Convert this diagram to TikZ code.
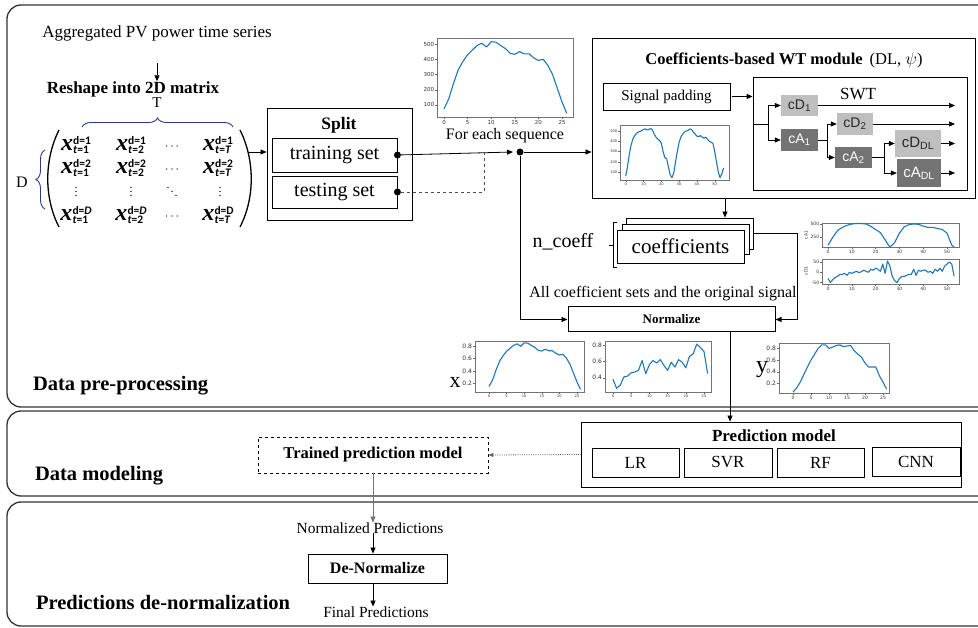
\documentclass[tikz,border=0pt]{standalone}
\usepackage{fontspec}
\setmainfont{Liberation Serif}
\newfontfamily\arialf{Liberation Sans}
\newfontfamily\carlf{Carlito}
\newfontfamily\dvf{DejaVu Sans}
\usetikzlibrary{arrows.meta,decorations.pathreplacing,calc}
\definecolor{plotblue}{HTML}{1F77B4}
\definecolor{bracecol}{HTML}{2B3A8C}
\definecolor{lightcoef}{HTML}{BFBFBF}
\definecolor{darkcoef}{HTML}{737373}
\definecolor{framecol}{HTML}{333333}
\newcommand{\fsz}[1]{\fontsize{#1}{#1}\selectfont}
% one matrix entry: bold italic x with stacked super/subscript
\newcommand{\mxscr}{\fsz{11.5}\carlf\bfseries}
\newcommand{\mxe}[2]{{\fsz{24}\bfseries\itshape x}\kern0.2pt\raisebox{-3.5pt}{\shortstack[l]{\mxscr #1\\[-1pt]\mxscr #2}}}
% compact vertical and diagonal dots for the matrix
\newcommand{\vdts}{\vbox{\baselineskip4pt\lineskiplimit0pt\hbox{.}\hbox{.}\hbox{.}}}
\newcommand{\ddts}{\hbox{\raisebox{8pt}{.}\kern1pt\raisebox{4pt}{.}\kern1pt\raisebox{0pt}{.}}}
% axis ticks of the small line charts (pixel based)
\newcommand{\xticks}[5]{\foreach \v in {#4} {\pgfmathsetmacro\pp{#1+(\v)*#2}
   \draw[tk] (\pp,#3) -- (\pp,#3+2);
   \node[#5, anchor=north] at (\pp,#3+2) {\v};}}
\newcommand{\yticks}[5]{\foreach \v in {#4} {\pgfmathsetmacro\pp{#1-(\v)*#2}
   \draw[tk] (#3,\pp) -- (#3-2,\pp);
   \node[#5, anchor=east] at (#3-2,\pp) {\v};}}
\newcommand{\dataplot}[5]{\begin{scope}[shift={(#1,#2)}, x=#3pt, y=#4pt]
   \draw[plotline] plot coordinates {#5};
 \end{scope}}
\begin{document}
\begin{tikzpicture}[x=1pt, y=-1pt,
  lbl/.style={inner sep=0pt, outer sep=0pt},
  box/.style={draw=black, line width=0.9pt, fill=white, inner sep=0pt},
  arr/.style={line width=0.8pt, -{Triangle[length=6pt,width=5pt]}},
  stageframe/.style={draw=framecol, line width=1.3pt, rounded corners=14pt},
  coefL/.style={fill=lightcoef, inner sep=0pt, font=\arialf\fsz{14}, text=black!85},
  coefD/.style={fill=darkcoef, inner sep=0pt, font=\arialf\fsz{14}, text=white},
  cframe/.style={draw=black!55, line width=0.6pt},
  plotline/.style={draw=plotblue, line width=1.1pt, line join=round},
  tk/.style={draw=black!60, line width=0.35pt},
  tA/.style={inner sep=0.8pt, font=\dvf\fsz{5.5}, text=black!80},
  tS/.style={inner sep=0.6pt, font=\dvf\fsz{3.6}, text=black!80},
  tM/.style={inner sep=0.6pt, font=\dvf\fsz{4.5}, text=black!80},
  tL/.style={inner sep=0.8pt, font=\dvf\fsz{6}, text=black!80},
  dotn/.style={circle, fill=black, inner sep=0pt, minimum size=7pt},
  mx/.style={inner sep=0pt},
  mdots/.style={inner sep=0pt, font=\fsz{12}},
  brc/.style={draw=bracecol, line width=0.9pt, decorate, decoration={brace, amplitude=#1}},
]
\useasboundingbox (0,0) rectangle (978,628);
\clip (0,0) rectangle (978,628);
\fill[white] (0,0) rectangle (978,628);

% ---------- stage frames ----------
\draw[stageframe] (7,5) rectangle (995,407);
\draw[stageframe] (7,411) rectangle (995,496);
\draw[stageframe] (7,502) rectangle (995,626);
\node[lbl, anchor=west, font=\fsz{20.5}\bfseries] (stage1) at (33,386) {Data pre-processing};
\node[lbl, anchor=west, font=\fsz{20.5}\bfseries] (stage2) at (35,476) {Data modeling};
\node[lbl, anchor=west, font=\fsz{20.5}\bfseries] (stage3) at (36,602) {Predictions de-normalization};

% ---------- input and reshaping ----------
\node[lbl, font=\fsz{17}] (agg) at (157,33) {Aggregated PV power time series};
\coordinate (aggout) at (157,63);
\node[lbl, font=\fsz{17}\bfseries] (reshape) at (133,89) {Reshape into 2D matrix};
\draw[arr] (aggout) -- (aggout |- reshape.north);
\node[lbl, font=\fsz{15}] (Tlab) at (157,103) {T};
\draw[brc=9pt] (82,127) -- (233,127);
\draw[brc=9pt] (45,209) -- (45,150);
\node[lbl, font=\fsz{16}] (Dlab) at (22,182) {D};

% matrix body
\node[mx] (m11) at (76,145) {\mxe{d=1}{\textit{t}=1}};
\node[mx] (m12) at (131,145) {\mxe{d=1}{\textit{t}=2}};
\node[mdots] (m13) at (172,147) {$\cdots$};
\node[mx] (m14) at (218,145) {\mxe{d=1}{\textit{t}=\textit{T}}};
\node[mx] (m21) at (76,168) {\mxe{d=2}{\textit{t}=1}};
\node[mx] (m22) at (131,168) {\mxe{d=2}{\textit{t}=2}};
\node[mdots] (m23) at (172,170) {$\cdots$};
\node[mx] (m24) at (218,168) {\mxe{d=2}{\textit{t}=\textit{T}}};
\node[mdots] (m31) at (76,192) {\vdts};
\node[mdots] (m32) at (131,192) {\vdts};
\node[mdots] (m33) at (172,192) {\ddts};
\node[mdots] (m34) at (220,192) {\vdts};
\node[mx] (m41) at (76,215) {\mxe{d=\textit{D}}{\textit{t}=1}};
\node[mx] (m42) at (131,215) {\mxe{d=\textit{D}}{\textit{t}=2}};
\node[mdots] (m43) at (172,217) {$\cdots$};
\node[mx] (m44) at (218,215) {\mxe{d=D}{\textit{t}=\textit{T}}};
\draw[line width=1.3pt] (59,130) .. controls (44,160) and (44,198) .. (59,227);
\draw[line width=1.3pt] (240,130) .. controls (255,160) and (255,198) .. (240,227);
\coordinate (matR) at (249,152);

% ---------- split ----------
\node[box, minimum width=145pt, minimum height=112pt] (split) at (339.5,164) {};
\node[lbl, font=\fsz{17.5}\bfseries] (splitlab) at (339,125) {Split};
\node[box, minimum width=125pt, minimum height=34pt, font=\fsz{20}] (train) at (334.5,155) {training set};
\node[box, minimum width=125pt, minimum height=32pt, font=\fsz{20}] (test) at (334.5,192) {testing set};
\draw[arr] (matR) -- (matR -| split.west);
\node[dotn] (trdot) at (train.east) {};
\node[dotn] (tedot) at (test.east) {};
\coordinate (jin) at (513,152);
\node[dotn] (jdot) at (520,152) {};
\coordinate (tjoin) at (484,152);
\draw[arr] (trdot) -- (jin);
\draw[line width=0.7pt, dashed, draw=black!70] (tedot) -| (tjoin);

% sequence chart
\draw[cframe] (437,38) rectangle (573,117);
\xticks{444}{4.72}{117}{0,5,10,15,20,25}{tA}
\yticks{120.25}{0.1525}{437}{100,200,300,400,500}{tA}
\dataplot{444}{120.25}{4.72}{0.1525}{(0,75)(1,140)(2,240)(3,330)(4,385)(5,430)(6,460)(7,490)(8,505)(9,480)(10,515)(11,512)(12,490)(13,470)(14,440)(15,432)(16,450)(17,435)(18,435)(19,410)(20,392)(21,400)(22,360)(23,300)(24,210)(25,120)(26,45)}
\node[lbl, font=\fsz{16}] (foreach) at (505,136) {For each sequence};

% ---------- wavelet module ----------
\node[box, minimum width=383pt, minimum height=160pt] (wt) at (783.5,118) {};
\node[lbl, font=\fsz{16.5}] (wttitle) at (784,60) {\textbf{Coefficients-based WT module}\hspace{7pt}(DL, $\psi$)};
\node[box, minimum width=127pt, minimum height=27pt, font=\fsz{15}] (sigpad) at (666.5,96.5) {Signal padding};
\node[box, line width=0.8pt, minimum width=214pt, minimum height=113pt] (swt) at (860,133.5) {};
\node[lbl, font=\fsz{17}] (swtlab) at (858,94) {SWT};
\draw[arr] ([xshift=2pt]sigpad.east) -- (sigpad.east -| swt.west);
\draw[arr] (jdot) -- (jdot -| wt.west);

\node[coefL, minimum width=37pt, minimum height=21pt] (cD1) at (799.5,105.5) {cD\textsubscript{1}};
\node[coefD, minimum width=37pt, minimum height=22pt] (cA1) at (799.5,140) {cA\textsubscript{1}};
\node[coefL, minimum width=36pt, minimum height=22pt] (cD2) at (855,124) {cD\textsubscript{2}};
\node[coefD, minimum width=37pt, minimum height=21pt] (cA2) at (853.5,157.5) {cA\textsubscript{2}};
\node[coefL, minimum width=46pt, minimum height=27pt, font=\arialf\fsz{15}] (cDDL) at (918,143.5) {cD\textsubscript{DL}};
\node[coefD, minimum width=44pt, minimum height=28pt, font=\arialf\fsz{15}] (cADL) at (919,173) {cA\textsubscript{DL}};
\coordinate (sb1) at (768,124);
\coordinate (sb2) at (827,140);
\coordinate (sb3) at (884,157.5);
\coordinate (outx) at (955,0);
\draw[line width=0.7pt] (sb1 -| swt.west) -- (sb1);
\draw[arr, line width=0.7pt] (sb1) |- (cD1.west);
\draw[arr, line width=0.7pt] (sb1) |- (cA1.west);
\draw[line width=0.7pt] (cA1.east) -- (sb2);
\draw[arr, line width=0.7pt] (sb2) |- (cD2.west);
\draw[arr, line width=0.7pt] (sb2) |- (cA2.west);
\draw[line width=0.7pt] (cA2.east) -- (sb3);
\draw[arr, line width=0.7pt] (sb3) |- (cDDL.west);
\draw[arr, line width=0.7pt] (sb3) |- (cADL.west);
\draw[arr, line width=0.7pt] (cD1.east) -- (cD1.east -| outx);
\draw[arr, line width=0.7pt] (cD2.east) -- (cD2.east -| outx);
\draw[arr, line width=0.7pt] (cDDL.east) -- (cDDL.east -| outx);
\draw[arr, line width=0.7pt] (cADL.east) -- (cADL.east -| outx);

% padded signal chart
\draw[cframe] (620,125) rectangle (729,180);
\xticks{625.7}{1.78}{180}{0,10,20,30,40,50}{tS}
\yticks{182.25}{0.1025}{620}{100,200,300,400,500}{tS}
\dataplot{625.7}{182.25}{1.78}{0.1025}{(0,60)(1,150)(2,270)(3,360)(4,420)(5,455)(6,475)(7,490)(8,495)(9,505)(10,515)(11,520)(12,510)(13,515)(14,525)(15,510)(16,470)(17,440)(18,420)(19,410)(20,380)(21,300)(22,240)(23,230)(24,150)(25,70)(26,45)(27,90)(28,200)(29,300)(30,390)(31,440)(32,470)(33,490)(34,500)(35,505)(36,520)(37,515)(38,490)(39,470)(40,450)(41,445)(42,455)(43,440)(44,430)(45,440)(46,420)(47,400)(48,390)(49,380)(50,300)(51,200)(52,100)(53,45)(54,80)(55,140)}

% ---------- coefficient sets ----------
\node[box, minimum width=127pt, minimum height=31pt] (cback) at (689.5,233.5) {};
\node[box, minimum width=127pt, minimum height=30pt] (cmid) at (685.5,239) {};
\node[box, minimum width=127pt, minimum height=33pt, font=\fsz{21}] (cfront) at (680.5,246.5) {coefficients};
\coordinate (wtout) at (725,198);
\draw[arr] (wtout) -- (wtout |- cback.north);
\node[lbl, font=\fsz{20}] (ncoeff) at (563,242) {n\_coeff};
\draw[line width=0.7pt] (617,222) -- (613,222) -- (613,267) -- (617,267);
\draw[line width=0.7pt] (613,245) -- (609,245);
\node[lbl, font=\fsz{16}] (allsets) at (663,294) {All coefficient sets and the original signal};
\node[box, line width=1pt, minimum width=207pt, minimum height=25pt, font=\fsz{13}\bfseries] (norm) at (671.5,319.5) {Normalize};
\coordinate (rbend) at (797,233.5);
\draw[line width=0.8pt] (cback.east) -- (rbend);
\draw[arr] (rbend) |- (norm.east);
\draw[arr] (jdot) |- (norm.west);

% approximation and detail charts
\draw[cframe] (822,223) rectangle (959,247);
\xticks{828}{2.38}{247}{0,10,20,30,40,50}{tM}
\yticks{250.3}{0.052}{822}{250,500}{tM}
\dataplot{828}{250.3}{2.38}{0.052}{(0,100)(2,250)(4,380)(6,440)(8,480)(10,505)(12,515)(14,515)(16,505)(18,460)(20,400)(22,340)(24,200)(26,60)(28,150)(30,330)(32,450)(34,495)(36,505)(38,500)(40,465)(42,440)(44,440)(46,420)(48,400)(50,330)(52,100)(53,60)}
\node[lbl, rotate=90, font=\dvf\fsz{4.5}, text=black!80] (cAylab) at (806,235) {cA1};
\draw[cframe] (822,259) rectangle (959,284);
\xticks{828}{2.38}{284}{0,10,20,30,40,50}{tM}
\yticks{272.3}{0.206}{822}{-50,0,50}{tM}
\dataplot{828}{272.3}{2.38}{0.206}{(0,-30)(1,-50)(2,-35)(3,-25)(4,-20)(5,-10)(6,-10)(7,-5)(8,-15)(9,0)(10,-5)(11,0)(12,5)(13,-2)(14,3)(15,10)(16,5)(17,0)(18,15)(19,10)(20,20)(21,15)(22,5)(23,40)(24,-5)(25,55)(26,30)(27,-20)(28,-40)(29,-50)(30,-30)(31,-20)(32,-20)(33,-15)(34,-10)(35,-10)(36,15)(37,-15)(38,10)(39,5)(40,10)(41,10)(42,0)(43,5)(44,-5)(45,15)(46,5)(47,20)(48,5)(49,30)(50,40)(51,50)(52,40)(53,-20)}
\node[lbl, rotate=90, font=\dvf\fsz{4.5}, text=black!80] (cDylab) at (806,271) {cD1};

% normalized inputs and target
\node[lbl, font=\fsz{22}] (xlab) at (455,382) {x};
\draw[cframe] (475,341) rectangle (584,392);
\xticks{489}{3.52}{392}{0,5,10,15,20,25}{tS}
\yticks{395.7}{62.2}{475}{0.2,0.4,0.6,0.8}{tL}
\dataplot{489}{395.7}{3.52}{62.2}{(0,0.148)(1,0.252)(2,0.411)(3,0.555)(4,0.643)(5,0.714)(6,0.762)(7,0.810)(8,0.834)(9,0.794)(10,0.850)(11,0.845)(12,0.810)(13,0.778)(14,0.730)(15,0.718)(16,0.746)(17,0.722)(18,0.722)(19,0.682)(20,0.654)(21,0.666)(22,0.603)(23,0.507)(24,0.363)(25,0.220)(26,0.100)}
\draw[cframe] (605,341) rectangle (711,392);
\xticks{613}{3.64}{392}{0,5,10,15,20,25}{tS}
\yticks{410.4}{81.75}{605}{0.4,0.6,0.8}{tL}
\dataplot{613}{410.4}{3.64}{81.75}{(0,0.38)(1,0.27)(2,0.31)(3,0.41)(4,0.42)(5,0.46)(6,0.47)(7,0.49)(8,0.61)(9,0.45)(10,0.56)(11,0.61)(12,0.58)(13,0.62)(14,0.55)(15,0.49)(16,0.59)(17,0.53)(18,0.62)(19,0.59)(20,0.52)(21,0.66)(22,0.69)(23,0.81)(24,0.77)(25,0.72)(26,0.45)}
\node[lbl, font=\fsz{24}] (ylab) at (762,370) {y};
\draw[cframe] (779,343) rectangle (889,393);
\xticks{793}{3.6}{393}{0,5,10,15,20,25}{tM}
\yticks{395}{58.3}{779}{0.2,0.4,0.6,0.8}{tL}
\dataplot{793}{395}{3.6}{58.3}{(0,0.05)(1,0.12)(2,0.22)(3,0.35)(4,0.48)(5,0.6)(6,0.7)(7,0.8)(8,0.86)(9,0.86)(10,0.8)(11,0.82)(12,0.85)(13,0.86)(14,0.83)(15,0.84)(16,0.85)(17,0.76)(18,0.7)(19,0.65)(20,0.55)(21,0.48)(22,0.48)(23,0.48)(24,0.33)(25,0.22)(26,0.1)}

% ---------- modeling ----------
\node[box, minimum width=380pt, minimum height=65pt] (pred) at (771,454.5) {};
\node[lbl, font=\fsz{17}\bfseries] (predlab) at (774,436) {Prediction model};
\node[box, minimum width=87pt, minimum height=29pt, font=\fsz{17}] (lr) at (635.5,462.5) {LR};
\node[box, minimum width=88pt, minimum height=29pt, font=\fsz{17}] (svr) at (728,462.5) {SVR};
\node[box, minimum width=87pt, minimum height=29pt, font=\fsz{17}] (rf) at (820.5,462.5) {RF};
\node[box, minimum width=88pt, minimum height=29pt, font=\fsz{17}] (cnn) at (916,461.5) {CNN};
\coordinate (nout) at (730,332);
\draw[arr] (nout) -- (nout |- pred.north);
\node[box, dashed, line width=0.8pt, minimum width=230pt, minimum height=36pt, font=\fsz{16.5}\bfseries] (trained) at (373,455) {Trained prediction model};
\draw[densely dotted, draw=black!60, line width=0.8pt, -{Triangle[length=5pt,width=4pt]}] (pred.west) -- (trained.east);

% ---------- de-normalization ----------
\node[lbl, font=\fsz{15.5}] (normpred) at (370,528) {Normalized Predictions};
\node[box, minimum width=139pt, minimum height=29pt, font=\fsz{16}\bfseries] (denorm) at (377.5,568.5) {De-Normalize};
\node[lbl, font=\fsz{15.5}] (final) at (376,612) {Final Predictions};
\draw[arr, draw=black!55] (trained.south) -- (trained.south |- normpred.north);
\draw[arr] (normpred.south -| trained.south) -- (denorm.north -| trained.south);
\draw[arr] (denorm.south -| trained.south) -- (final.north -| trained.south);
\end{tikzpicture}
\end{document}
